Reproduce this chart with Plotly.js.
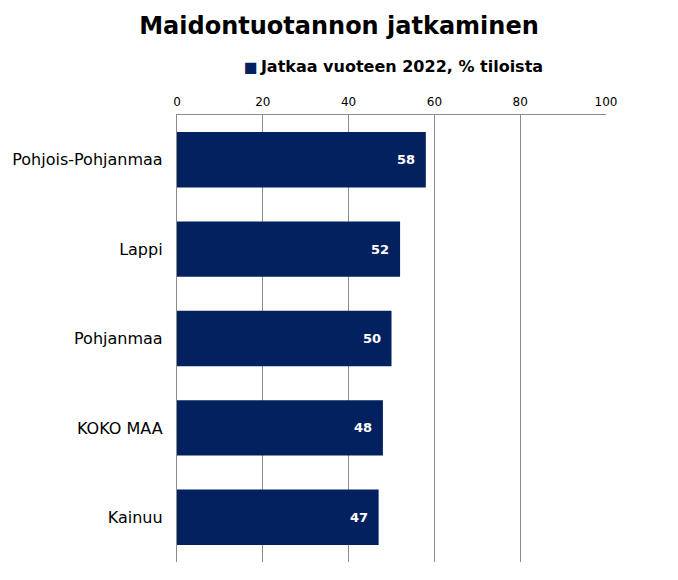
<!DOCTYPE html>
<html>
<head>
<meta charset="utf-8">
<script src="https://cdn.plot.ly/plotly-3.0.1.min.js"></script>
<style>
  html, body { margin: 0; padding: 0; background: #fff; }
  #chart { width: 678px; height: 580px; }
</style>
</head>
<body>
<div id="chart"></div>
<script>
const regions = ['Pohjois-Pohjanmaa', 'Lappi', 'Pohjanmaa', 'KOKO MAA', 'Kainuu'];
const continuing = [58, 52, 50, 48, 47];
const seriesName = 'Jatkaa vuoteen 2022, % tiloista';
const xTicks = [0, 20, 40, 60, 80, 100];

const barColor = '#03215f';

const trace = {
  type: 'bar',
  orientation: 'h',
  y: regions,
  x: continuing,
  name: seriesName,
  marker: { color: barColor },
  width: 0.62,
  hoverinfo: 'skip',
  showlegend: false
};

// value labels sit just inside the bar end
const valueLabels = regions.map((r, i) => ({
  x: continuing[i],
  y: r,
  xref: 'x',
  yref: 'y',
  text: '<b>' + continuing[i] + '</b>',
  showarrow: false,
  xanchor: 'right',
  yanchor: 'middle',
  xshift: -9,
  font: { family: 'DejaVu Sans', size: 13, color: '#ffffff' }
}));

// legend line above the plot
const legendNote = {
  xref: 'paper',
  yref: 'paper',
  x: 0.152,
  y: 1.109,
  xanchor: 'left',
  yanchor: 'middle',
  showarrow: false,
  text: '<span style="color:' + barColor + ';font-size:14.5px">■</span>\u2009<b>' + seriesName + '</b>',
  font: { family: 'DejaVu Sans', size: 16, color: '#000000' }
};

const layout = {
  width: 678,
  height: 580,
  margin: { l: 177, r: 72, t: 115, b: 18 },
  paper_bgcolor: '#ffffff',
  plot_bgcolor: '#ffffff',
  title: {
    text: '<b>Maidontuotannon jatkaminen</b>',
    font: { family: 'DejaVu Sans', size: 24, color: '#000000' },
    x: 0.5,
    xanchor: 'center',
    y: 0.956,
    yanchor: 'middle'
  },
  showlegend: false,
  annotations: [legendNote, ...valueLabels],
  xaxis: {
    side: 'top',
    range: [0, 100],
    tickvals: xTicks,
    ticktext: xTicks.map(String),
    ticks: '',
    ticklabelstandoff: 3,
    tickfont: { family: 'DejaVu Sans', size: 12, color: '#000000' },
    showgrid: true,
    gridcolor: '#8c8c8c',
    gridwidth: 1,
    zeroline: false,
    showline: true,
    linecolor: '#8c8c8c',
    linewidth: 1,
    fixedrange: true
  },
  yaxis: {
    autorange: 'reversed',
    ticks: '',
    ticksuffix: '  ',
    tickfont: { family: 'DejaVu Sans', size: 16, color: '#000000' },
    showgrid: false,
    zeroline: false,
    showline: true,
    linecolor: '#8c8c8c',
    linewidth: 1,
    fixedrange: true
  },
  bargap: 0.38
};

Plotly.newPlot('chart', [trace], layout, { displayModeBar: false, staticPlot: true });
</script>
</body>
</html>
